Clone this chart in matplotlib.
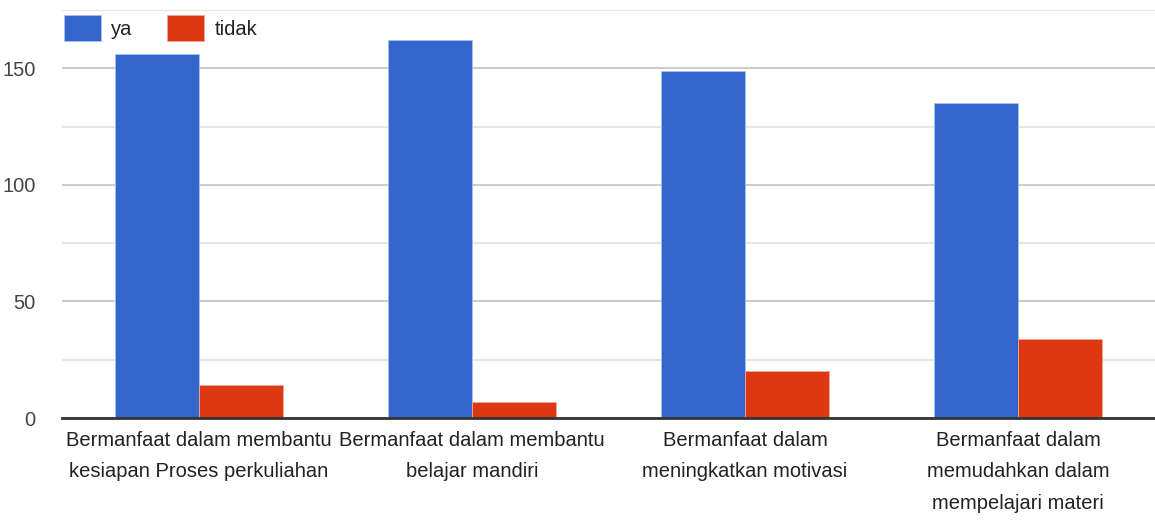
import matplotlib.pyplot as plt
import numpy as np

# Data
categories = [
    "Bermanfaat dalam membantu\nkesiapan Proses perkuliahan",
    "Bermanfaat dalam membantu\nbelajar mandiri",
    "Bermanfaat dalam\nmeningkatkan motivasi",
    "Bermanfaat dalam\nmemudahkan dalam\nmempelajari materi",
]
ya = [156, 162, 149, 135]
tidak = [14, 7, 20, 34]
series_names = ["ya", "tidak"]

plt.rcParams['font.family'] = ['Liberation Sans', 'DejaVu Sans']

fig = plt.figure(figsize=(11.55, 5.21), dpi=100)
ax = fig.add_axes([62 / 1155, 1 - 418 / 521, 1 - 62 / 1155, (418 - 10) / 521])

x = np.arange(len(categories))
w = 0.307
ax.bar(x - w / 2, ya, width=w, color='#3366cc', label=series_names[0], zorder=3,
       edgecolor='#a9bfea', linewidth=0.6)
ax.bar(x + w / 2, tidak, width=w, color='#dc3912', label=series_names[1], zorder=3,
       edgecolor='#f0a898', linewidth=0.6)

ax.set_xlim(-0.5, len(categories) - 0.5)
ax.set_ylim(0, 175)
ax.set_yticks([0, 50, 100, 150])
ax.set_yticks([25, 75, 125, 175], minor=True)
ax.grid(axis='y', which='major', color='#cccccc', linewidth=1.5, zorder=0)
ax.grid(axis='y', which='minor', color='#e6e6e6', linewidth=1.5, zorder=0)
ax.tick_params(axis='y', which='both', length=0, pad=19, labelsize=14.5, labelcolor='#444444')
ax.tick_params(axis='x', length=0, pad=9, labelsize=14.5, labelcolor='#222222')
ax.set_xticks(x)
ax.set_xticklabels(categories, linespacing=1.85)

for s in ['top', 'right', 'left']:
    ax.spines[s].set_visible(False)
ax.spines['bottom'].set_color('#333333')
ax.spines['bottom'].set_linewidth(2)
ax.spines['bottom'].set_zorder(4)

ax.legend(loc='upper left', bbox_to_anchor=(0.0, 0.992), ncol=2, frameon=False,
          fontsize=14.5, handlelength=1.85, handleheight=1.55, handletextpad=0.5,
          columnspacing=1.7, borderaxespad=0, borderpad=0.1, labelcolor='#222222')

fig.savefig('out.png', dpi=100, facecolor='white')
